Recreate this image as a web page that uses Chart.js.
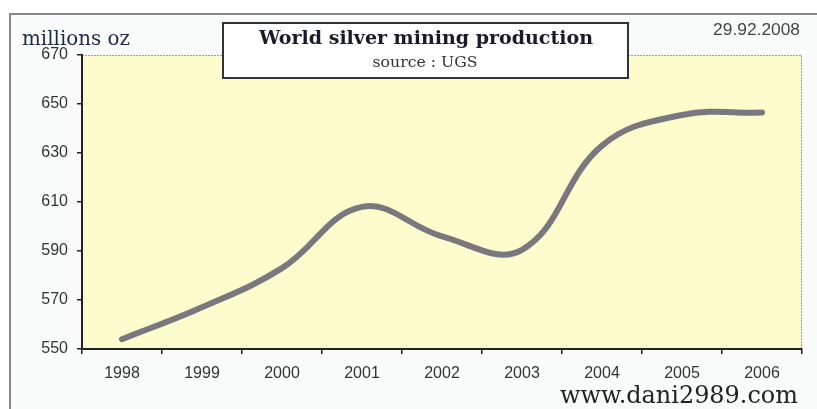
<!DOCTYPE html>
<html>
<head>
<meta charset="utf-8">
<script src="https://cdn.jsdelivr.net/npm/chart.js@4.4.1/dist/chart.umd.min.js"></script>
<style>
  html, body { margin: 0; padding: 0; background: #ffffff; }
  #c { display: block; }
</style>
</head>
<body>
<canvas id="c" width="817" height="409"></canvas>
<script>
// ---- data ----
const years = ['1998', '1999', '2000', '2001', '2002', '2003', '2004', '2005', '2006'];
const production = [554, 567, 583, 608, 596, 590.5, 633, 645.5, 646.5];
const yTickValues = [550, 570, 590, 610, 630, 650, 670];

const titleText = 'World silver mining production';
const subtitleText = 'source : UGS';
const unitText = 'millions oz';
const dateText = '29.92.2008';
const siteText = 'www.dani2989.com';

function fitFont(ctx, text, family, weight, targetWidth) {
  ctx.font = weight + ' 20px ' + family;
  const w = ctx.measureText(text).width;
  const size = 20 * targetWidth / w;
  return weight + ' ' + size.toFixed(2) + 'px ' + family;
}

const decor = {
  id: 'decor',
  beforeDraw(chart) {
    const ctx = chart.ctx;
    const a = chart.chartArea;
    ctx.save();
    ctx.fillStyle = '#ffffff';
    ctx.fillRect(0, 0, chart.width, chart.height);
    // outer frame
    ctx.fillStyle = '#fafcfc';
    ctx.fillRect(10, 14, chart.width - 10, chart.height - 14);
    ctx.strokeStyle = '#8a8a8a';
    ctx.lineWidth = 2;
    ctx.beginPath();
    ctx.moveTo(10, chart.height);
    ctx.lineTo(10, 14);
    ctx.lineTo(chart.width, 14);
    ctx.stroke();
    // plot area
    ctx.fillStyle = '#fcfccc';
    ctx.fillRect(a.left, a.top, a.right - a.left, a.bottom - a.top);
    ctx.strokeStyle = '#a0a0a0';
    ctx.lineWidth = 1;
    ctx.setLineDash([2, 1]);
    ctx.beginPath();
    ctx.moveTo(a.left, a.top + 0.5);
    ctx.lineTo(a.right - 0.5, a.top + 0.5);
    ctx.lineTo(a.right - 0.5, a.bottom);
    ctx.stroke();
    ctx.restore();
  },
  afterDraw(chart) {
    const ctx = chart.ctx;
    ctx.save();
    // title box
    ctx.fillStyle = '#ffffff';
    ctx.fillRect(222, 22, 407, 57);
    ctx.strokeStyle = '#333333';
    ctx.lineWidth = 2;
    ctx.strokeRect(223, 23, 405, 55);
    ctx.textAlign = 'center';
    ctx.textBaseline = 'alphabetic';
    ctx.fillStyle = '#1a1a2a';
    ctx.font = fitFont(ctx, titleText, '"DejaVu Serif"', 'bold', 334);
    ctx.fillText(titleText, 426, 44);
    ctx.fillStyle = '#333333';
    ctx.font = fitFont(ctx, subtitleText, '"DejaVu Serif"', 'normal', 105);
    ctx.fillText(subtitleText, 425, 67);
    // unit label
    ctx.textAlign = 'left';
    ctx.fillStyle = '#1c2a4a';
    ctx.font = fitFont(ctx, unitText, '"DejaVu Serif"', 'normal', 108);
    ctx.fillText(unitText, 22, 45);
    // date
    ctx.textAlign = 'right';
    ctx.fillStyle = '#444444';
    ctx.font = fitFont(ctx, dateText, '"Liberation Sans"', 'normal', 87);
    ctx.fillText(dateText, 800, 35);
    // site
    ctx.textAlign = 'left';
    ctx.fillStyle = '#222222';
    ctx.font = fitFont(ctx, siteText, '"DejaVu Serif"', 'normal', 238);
    ctx.fillText(siteText, 560, 403);
    ctx.restore();
  }
};

new Chart(document.getElementById('c'), {
  type: 'line',
  data: {
    labels: years,
    datasets: [{
      data: production,
      borderColor: '#78787e',
      borderWidth: 6,
      borderCapStyle: 'round',
      borderJoinStyle: 'round',
      tension: 0.4,
      pointRadius: 0,
      fill: false
    }]
  },
  options: {
    responsive: false,
    devicePixelRatio: 1,
    animation: false,
    events: [],
    layout: { padding: { top: 55, right: 15, left: 0, bottom: 0 } },
    plugins: { legend: { display: false }, tooltip: { enabled: false }, title: { display: false } },
    scales: {
      x: {
        type: 'category',
        offset: true,
        afterFit(scale) { scale.height = 60; },
        grid: { offset: true, drawOnChartArea: false, drawTicks: true, tickLength: 5, color: '#222222', lineWidth: 1.5 },
        border: { display: true, color: '#222222', width: 2 },
        ticks: { color: '#333333', padding: 10, font: { family: '"Liberation Sans", Arial, sans-serif', size: 16 }, maxRotation: 0 }
      },
      y: {
        min: 550,
        max: 670,
        afterFit(scale) { scale.width = 82; },
        afterBuildTicks(scale) { scale.ticks = yTickValues.map(v => ({ value: v })); },
        grid: { drawOnChartArea: false, drawTicks: true, tickLength: 5, color: '#222222', lineWidth: 1.5 },
        border: { display: true, color: '#222222', width: 2 },
        ticks: { color: '#333333', padding: 9, font: { family: '"Liberation Sans", Arial, sans-serif', size: 16 } }
      }
    }
  },
  plugins: [decor]
});
</script>
</body>
</html>
